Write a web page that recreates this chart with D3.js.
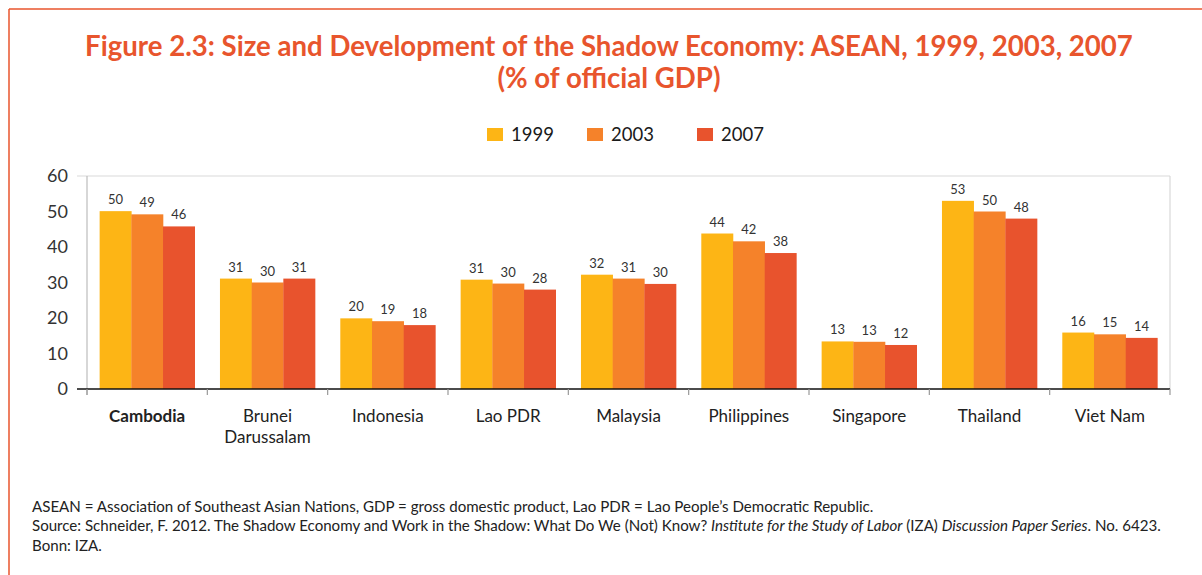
<!DOCTYPE html>
<html><head><meta charset="utf-8">
<script src="https://cdn.jsdelivr.net/npm/d3@7"></script>
<style>
html,body{margin:0;padding:0;background:#fff;}
svg{display:block;}
</style></head>
<body>
<script>
const categories = ["Cambodia","Brunei Darussalam","Indonesia","Lao PDR","Malaysia","Philippines","Singapore","Thailand","Viet Nam"];
const seriesNames = ["1999","2003","2007"];
const values1999 = [50.1, 31.1, 19.9, 30.8, 32.2, 43.8, 13.4, 53.0, 15.9];
const values2003 = [49.2, 30.0, 19.1, 29.7, 31.1, 41.6, 13.3, 50.0, 15.4];
const values2007 = [45.8, 31.1, 18.0, 28.0, 29.6, 38.3, 12.4, 48.0, 14.4];
const yTicks = [0,10,20,30,40,50,60];
const colors = ["#FDB515","#F5822A","#E8532D"];
const titleLines = ["Figure 2.3: Size and Development of the Shadow Economy: ASEAN, 1999, 2003, 2007","(% of official GDP)"];

const W=1202,H=575;
const svg=d3.select("body").append("svg").attr("width",W).attr("height",H);
const accent="#E8552D";
// frame
svg.append("line").attr("x1",9).attr("x2",W).attr("y1",9).attr("y2",9).attr("stroke",accent).attr("stroke-width",1.5);
svg.append("line").attr("x1",9).attr("x2",9).attr("y1",9).attr("y2",H).attr("stroke",accent).attr("stroke-width",1.5);

// title
svg.selectAll("text.title").data(titleLines).join("text").attr("class","title")
  .attr("x",609).attr("y",(d,i)=>56+i*32).attr("text-anchor","middle")
  .attr("font-family","Lato, sans-serif").attr("font-weight","bold").attr("font-size",27.6)
  .attr("fill",accent).text(d=>d);

// legend
const legX=[487,587,697];
const leg=svg.selectAll("g.leg").data(seriesNames).join("g").attr("class","leg")
  .attr("transform",(d,i)=>`translate(${legX[i]},0)`);
leg.append("rect").attr("x",0).attr("y",128).attr("width",16).attr("height",13).attr("fill",(d,i)=>colors[i]);
leg.append("text").attr("x",24).attr("y",141).attr("font-family","Lato, sans-serif").attr("font-size",18.5).attr("fill","#1a1a1a").text(d=>d);

// scales
const L=87,R=1170,T=176,B=389;
const x=d3.scaleBand().domain(categories).range([L,R]).padding(0);
const y=d3.scaleLinear().domain([0,60]).range([B,T]);
const groupW=x.bandwidth()*0.79;
const xs=d3.scaleBand().domain(seriesNames).range([0,groupW]).padding(0);

// frame lines of plot
svg.append("line").attr("x1",77).attr("x2",R).attr("y1",y(60)).attr("y2",y(60)).attr("stroke","#d9d9d9").attr("stroke-width",1.2);
svg.append("line").attr("x1",R).attr("x2",R).attr("y1",y(60)).attr("y2",B).attr("stroke","#d9d9d9").attr("stroke-width",1.2);
svg.append("line").attr("x1",L).attr("x2",L).attr("y1",y(60)).attr("y2",B+6).attr("stroke","#bdbdbd").attr("stroke-width",1.2);

// y labels
const yAxis=d3.axisLeft(y).tickValues(yTicks).tickSize(0).tickPadding(19);
const ya=svg.append("g").attr("transform",`translate(${L},0)`).call(yAxis);
ya.select(".domain").remove();
ya.selectAll("text").attr("font-family","Lato, sans-serif").attr("font-size",18).attr("fill","#333");

// bars
const series=[values1999,values2003,values2007];
const fmt=v=>String(Math.round(v));
series.forEach((vals,si)=>{
  const g=svg.append("g");
  g.selectAll("rect").data(categories).join("rect")
    .attr("x",(c)=>x(c)+(x.bandwidth()-groupW)/2+xs(seriesNames[si]))
    .attr("y",(c,i)=>y(vals[i]))
    .attr("width",xs.bandwidth()+0.3)
    .attr("height",(c,i)=>B-y(vals[i]))
    .attr("fill",colors[si]);
  g.selectAll("text").data(categories).join("text")
    .attr("x",(c)=>x(c)+(x.bandwidth()-groupW)/2+xs(seriesNames[si])+xs.bandwidth()/2)
    .attr("y",(c,i)=>y(vals[i])-7)
    .attr("text-anchor","middle").attr("font-family","Lato, sans-serif").attr("font-size",13).attr("fill","#333")
    .text((c,i)=>fmt(vals[i]));
});

// x axis
const xAxis=d3.axisBottom(x).tickSize(0).tickFormat("");
const xa=svg.append("g").attr("transform",`translate(0,${B})`).call(xAxis);
xa.select(".domain").remove();
svg.append("line").attr("x1",77).attr("x2",R).attr("y1",B).attr("y2",B).attr("stroke","#111").attr("stroke-width",1.5);
const bounds=categories.map(c=>x(c)).concat([R]);
svg.selectAll("line.xt").data(bounds).join("line").attr("class","xt")
  .attr("x1",d=>d).attr("x2",d=>d).attr("y1",B).attr("y2",B+6).attr("stroke","#999").attr("stroke-width",1.2);

// category labels
const cl=svg.selectAll("text.cat").data(categories).join("text").attr("class","cat")
  .attr("x",c=>x(c)+x.bandwidth()/2).attr("y",422).attr("text-anchor","middle")
  .attr("font-family","Lato, sans-serif").attr("font-size",17).attr("fill","#222")
  .attr("font-weight",(c,i)=>i===0?"bold":"normal");
cl.each(function(c){
  const parts=c==="Brunei Darussalam"?["Brunei","Darussalam"]:[c];
  d3.select(this).selectAll("tspan").data(parts).join("tspan")
    .attr("x",x(c)+x.bandwidth()/2).attr("dy",(d,i)=>i===0?0:21).text(d=>d);
});

// footnotes
const ff="Lato, sans-serif";
const fs=15.1;
svg.append("text").attr("x",32).attr("y",512).attr("font-family",ff).attr("font-size",fs).attr("fill","#222")
 .text("ASEAN = Association of Southeast Asian Nations, GDP = gross domestic product, Lao PDR = Lao People’s Democratic Republic.");
const f2=svg.append("text").attr("x",32).attr("y",531).attr("font-family",ff).attr("font-size",fs).attr("fill","#222");
f2.append("tspan").text("Source: Schneider, F. 2012. The Shadow Economy and Work in the Shadow: What Do We (Not) Know? ");
f2.append("tspan").attr("font-style","italic").text("Institute for the Study of Labor");
f2.append("tspan").text(" (IZA) ");
f2.append("tspan").attr("font-style","italic").text("Discussion Paper Series");
f2.append("tspan").text(". No. 6423.");
svg.append("text").attr("x",32).attr("y",551).attr("font-family",ff).attr("font-size",fs).attr("fill","#222").text("Bonn: IZA.");
</script>
</body></html>
